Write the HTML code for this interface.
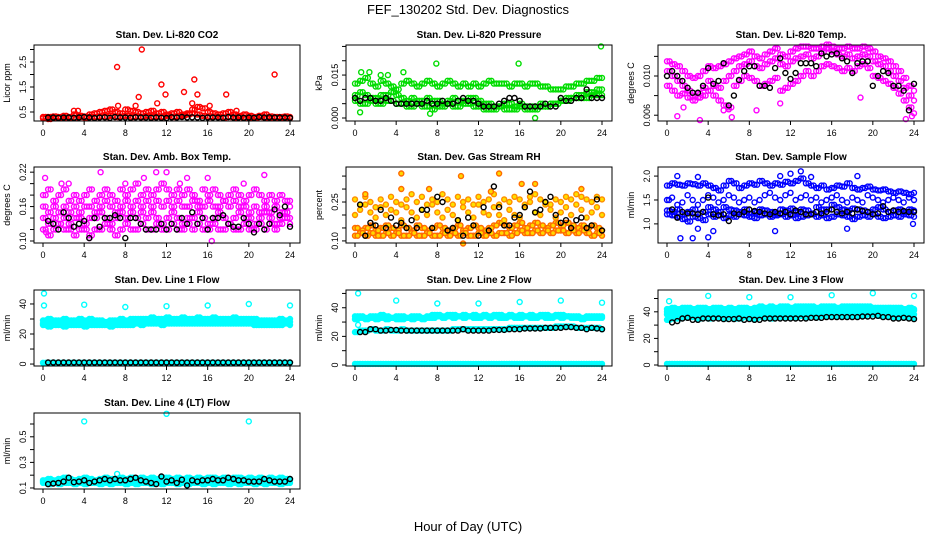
<!DOCTYPE html>
<html><head><meta charset="utf-8"><style>
html,body{margin:0;padding:0;background:#fff;}
svg{display:block;font-family:"Liberation Sans",sans-serif;}
</style></head><body>
<svg id="c" width="936" height="540" viewBox="0 0 936 540">
<rect x="0" y="0" width="936" height="540" fill="#fff"/>
<text x="468" y="14" text-anchor="middle" font-size="13">FEF_130202  Std. Dev. Diagnostics</text>
<text x="468" y="531" text-anchor="middle" font-size="13">Hour of Day (UTC)</text>
</svg>
<script>
const H=[0,0.5,1,1.5,2,2.5,3,3.5,4,4.5,5,5.5,6,6.5,7,7.5,8,8.5,9,9.5,10,10.5,11,11.5,12,12.5,13,13.5,14,14.5,15,15.5,16,16.5,17,17.5,18,18.5,19,19.5,20,20.5,21,21.5,22,22.5,23,23.5,24];
const H2=[0.25,0.75,1.25,1.75,2.25,2.75,3.25,3.75,4.25,4.75,5.25,5.75,6.25,6.75,7.25,7.75,8.25,8.75,9.25,9.75,10.25,10.75,11.25,11.75,12.25,12.75,13.25,13.75,14.25,14.75,15.25,15.75,16.25,16.75,17.25,17.75,18.25,18.75,19.25,19.75,20.25,20.75,21.25,21.75,22.25,22.75,23.25,23.75];
const xTicks=[0,4,8,12,16,20,24];
// CO2
const co2RedA=[0.3,0.3,0.32,0.3,0.35,0.3,0.4,0.35,0.32,0.4,0.45,0.5,0.55,0.6,0.5,0.45,0.6,0.55,0.5,0.45,0.5,0.55,0.45,0.5,0.4,0.45,0.5,0.4,0.45,0.6,0.7,0.65,0.5,0.45,0.4,0.45,0.5,0.4,0.35,0.4,0.35,0.3,0.35,0.4,0.32,0.3,0.3,0.32,0.3];
const co2RedB=[0.25,0.22,0.25,0.28,0.25,0.28,0.25,0.3,0.28,0.3,0.3,0.32,0.3,0.35,0.3,0.32,0.35,0.3,0.32,0.3,0.35,0.3,0.32,0.3,0.35,0.3,0.32,0.35,0.4,0.45,0.4,0.35,0.3,0.32,0.3,0.28,0.3,0.28,0.3,0.25,0.28,0.25,0.3,0.28,0.25,0.28,0.25,0.25,0.25];
const co2Black=[null,0.28,0.28,0.27,0.28,0.28,0.27,0.28,0.3,0.28,0.26,0.28,0.29,0.27,0.3,0.28,0.28,0.27,0.29,0.28,0.28,0.27,0.28,0.27,0.26,0.29,0.28,0.3,0.28,0.29,0.28,0.27,0.28,0.28,0.28,0.27,0.3,0.28,0.28,0.27,0.28,0.27,0.3,0.28,0.29,0.28,0.28,0.28,0.27];
const co2OutX=[7.2,9.6,11.5,9.3,11.9,13.7,14.7,15,17.8,22.5,11.1,14.5,16.2,7.3,9,3,3.4,18.8];
const co2OutY=[2.3,3.0,1.6,1.1,1.2,1.3,1.8,1.2,1.2,2.0,0.85,0.85,0.75,0.75,0.75,0.55,0.55,0.55];
// Pressure
const presA=[0.012,0.013,0.014,0.012,0.011,0.013,0.012,0.011,0.010,0.012,0.013,0.012,0.011,0.012,0.013,0.012,0.011,0.012,0.013,0.012,0.011,0.012,0.011,0.012,0.011,0.012,0.013,0.012,0.012,0.012,0.011,0.012,0.012,0.011,0.012,0.012,0.011,0.011,0.010,0.010,0.010,0.011,0.011,0.012,0.012,0.013,0.013,0.014,0.014];
const presB=[0.008,0.009,0.008,0.007,0.007,0.008,0.008,0.009,0.008,0.007,0.006,0.007,0.006,0.006,0.007,0.006,0.006,0.005,0.006,0.007,0.006,0.006,0.007,0.007,0.006,0.005,0.005,0.004,0.004,0.005,0.005,0.004,0.005,0.004,0.004,0.004,0.005,0.004,0.005,0.005,0.006,0.007,0.007,0.008,0.008,0.009,0.009,0.010,0.010];
const presC=[0.006,0.005,0.005,0.006,0.005,0.005,0.006,0.006,0.005,0.005,0.004,0.004,0.005,0.004,0.004,0.003,0.004,0.004,0.005,0.004,0.004,0.005,0.005,0.004,0.004,0.003,0.003,0.003,0.004,0.003,0.003,0.003,0.004,0.003,0.003,0.003,0.004,0.004,0.005,0.005,0.006,0.006,0.007,0.007,0.007,0.007,0.008,0.008,0.008];
const presBlack=[0.007,0.006,0.007,0.007,0.006,0.006,0.007,0.006,0.005,0.005,0.005,0.005,0.005,0.005,0.006,0.005,0.005,0.006,0.005,0.005,0.006,0.007,0.006,0.006,0.005,0.004,0.004,0.004,0.005,0.006,0.007,0.007,0.006,0.004,0.004,0.004,0.004,0.005,0.004,0.004,0.007,0.006,0.006,0.007,0.007,0.010,0.007,0.007,0.007];
const presOutX=[0.6,1.4,4.7,7.9,15.9,23.9,17.5,0.5,7.3,2.5,3.2];
const presOutY=[0.016,0.016,0.016,0.019,0.019,0.025,0.0,0.002,0.0015,0.015,0.015];
// Temp
const tempA=[0.0105,0.0100,0.0095,0.0090,0.0085,0.0080,0.0082,0.0088,0.0095,0.0090,0.0088,0.0095,0.0100,0.0105,0.0110,0.0112,0.0115,0.0110,0.0108,0.0112,0.0115,0.0118,0.0112,0.0110,0.0115,0.0118,0.0120,0.0122,0.0118,0.0120,0.0125,0.0128,0.0125,0.0122,0.0120,0.0122,0.0118,0.0120,0.0122,0.0120,0.0115,0.0112,0.0110,0.0105,0.0100,0.0095,0.0088,0.0080,0.0075];
const tempB=[0.0090,0.0085,0.0080,0.0082,0.0078,0.0075,0.0078,0.0080,0.0085,0.0080,0.0075,0.0070,0.0068,0.0090,0.0095,0.0100,0.0098,0.0095,0.0090,0.0092,0.0095,0.0098,0.0085,0.0088,0.0092,0.0095,0.0100,0.0105,0.0100,0.0105,0.0110,0.0112,0.0110,0.0108,0.0105,0.0108,0.0105,0.0110,0.0112,0.0108,0.0100,0.0098,0.0095,0.0092,0.0088,0.0082,0.0075,0.0068,0.0062];
const tempC=[0.0115,0.0112,0.0110,0.0105,0.0100,0.0098,0.0100,0.0105,0.0110,0.0108,0.0110,0.0112,0.0115,0.0118,0.0120,0.0122,0.0125,0.0120,0.0118,0.0122,0.0125,0.0128,0.0122,0.0120,0.0125,0.0128,0.0130,0.0130,0.0128,0.0128,0.0130,0.0132,0.0130,0.0128,0.0128,0.0130,0.0128,0.0128,0.0130,0.0128,0.0125,0.0120,0.0118,0.0115,0.0110,0.0105,0.0098,0.0090,0.0085];
const tempBlack=[0.0100,0.0105,0.0100,0.0095,0.0088,0.0083,0.0083,0.0090,0.0108,0.0092,0.0095,0.0113,0.0070,0.0080,0.0096,0.0105,0.0110,0.0110,0.0090,0.0090,0.0088,0.0108,0.0118,0.0103,0.0097,0.0103,0.0113,0.0113,0.0113,0.0110,0.0123,0.0120,0.0122,0.0123,0.0118,0.0115,0.0103,0.0113,0.0115,0.0115,0.0090,0.0100,0.0105,0.0103,0.0090,0.0090,0.0085,0.0065,0.0092];
const tempOutX=[1,3.2,5.5,6.3,8.7,1.6,11,23.2,23.8,6,18.8];
const tempOutY=[0.0059,0.0055,0.0065,0.0058,0.0065,0.0068,0.0072,0.0056,0.0059,0.0066,0.0078];
// Amb box
const ambA=[0.18,0.19,0.17,0.18,0.19,0.17,0.18,0.17,0.18,0.19,0.17,0.18,0.19,0.18,0.17,0.19,0.18,0.19,0.20,0.18,0.19,0.18,0.19,0.20,0.19,0.18,0.19,0.18,0.19,0.18,0.17,0.19,0.18,0.19,0.18,0.17,0.18,0.19,0.18,0.17,0.18,0.19,0.18,0.17,0.18,0.17,0.18,0.17,0.17];
const ambB=[0.16,0.15,0.16,0.15,0.16,0.15,0.16,0.15,0.16,0.16,0.15,0.16,0.17,0.16,0.15,0.16,0.17,0.16,0.17,0.16,0.17,0.16,0.17,0.16,0.17,0.16,0.17,0.16,0.16,0.17,0.16,0.16,0.17,0.16,0.16,0.17,0.16,0.17,0.16,0.16,0.15,0.16,0.15,0.16,0.15,0.16,0.15,0.15,0.16];
const ambC=[0.14,0.13,0.14,0.13,0.14,0.13,0.14,0.14,0.13,0.14,0.14,0.15,0.14,0.13,0.14,0.15,0.14,0.15,0.14,0.15,0.14,0.15,0.14,0.13,0.14,0.15,0.14,0.13,0.14,0.14,0.15,0.14,0.13,0.14,0.15,0.14,0.13,0.14,0.15,0.14,0.14,0.13,0.14,0.15,0.14,0.13,0.14,0.15,0.14];
const ambD=[0.12,0.11,0.12,0.13,0.12,0.12,0.11,0.12,0.12,0.11,0.12,0.12,0.13,0.12,0.11,0.12,0.13,0.12,0.12,0.13,0.12,0.12,0.13,0.12,0.12,0.13,0.12,0.12,0.13,0.12,0.13,0.12,0.12,0.13,0.12,0.12,0.13,0.12,0.12,0.13,0.12,0.12,0.13,0.12,0.13,0.12,0.13,0.14,0.13];
const ambBlack=[null,0.135,0.13,0.12,0.15,0.14,0.125,0.13,0.135,0.105,0.14,0.125,0.14,0.14,0.145,0.14,0.105,0.14,0.14,0.13,0.12,0.12,0.12,0.13,0.12,0.13,0.12,0.14,0.13,0.15,0.13,0.14,0.12,0.14,0.14,0.145,0.13,0.125,0.125,0.14,0.13,0.115,0.13,0.12,0.13,0.155,0.145,0.16,0.125];
const ambOutX=[0.2,1.8,5.6,8,11,12,14,16,21.5,16.4,2.5,0.3,4.5,9.8,13.3,19.5];
const ambOutY=[0.21,0.2,0.22,0.2,0.22,0.22,0.21,0.21,0.215,0.10,0.2,0.115,0.105,0.21,0.2,0.2];
// Gas RH
const rhA=[0.15,0.14,0.15,0.16,0.14,0.15,0.16,0.15,0.14,0.16,0.15,0.14,0.16,0.15,0.14,0.15,0.16,0.15,0.14,0.15,0.16,0.14,0.15,0.16,0.15,0.14,0.15,0.16,0.17,0.16,0.15,0.16,0.17,0.15,0.16,0.17,0.16,0.15,0.16,0.17,0.16,0.17,0.16,0.15,0.16,0.15,0.16,0.15,0.14];
const rhB=[0.12,0.13,0.12,0.13,0.12,0.12,0.13,0.12,0.13,0.12,0.12,0.13,0.12,0.12,0.13,0.12,0.12,0.13,0.12,0.13,0.12,0.13,0.12,0.12,0.13,0.12,0.13,0.12,0.13,0.13,0.12,0.13,0.14,0.13,0.13,0.14,0.13,0.14,0.13,0.14,0.14,0.13,0.14,0.13,0.14,0.13,0.12,0.13,0.12];
const rhC=[0.20,0.22,0.24,0.21,0.19,0.23,0.20,0.22,0.21,0.18,0.23,0.21,0.19,0.22,0.20,0.24,0.21,0.19,0.22,0.20,0.18,0.23,0.21,0.19,0.24,0.21,0.20,0.23,0.20,0.18,0.22,0.20,0.19,0.23,0.25,0.21,0.20,0.24,0.22,0.19,0.21,0.23,0.20,0.24,0.22,0.19,0.21,0.23,0.20];
const rhD=[0.26,0.24,0.27,0.25,0.23,0.26,0.24,0.27,0.25,0.24,0.26,0.28,0.25,0.27,0.24,0.26,0.25,0.28,0.26,0.24,0.27,0.25,0.26,0.24,0.27,0.25,0.26,0.28,0.24,0.26,0.25,0.27,0.26,0.24,0.27,0.28,0.26,0.25,0.24,0.26,0.25,0.27,0.26,0.28,0.27,0.26,0.25,0.27,0.26];
const rhBlack=[null,0.24,0.12,0.17,0.16,0.22,0.15,0.19,0.16,0.17,0.15,0.18,0.15,0.22,0.22,0.15,0.27,0.25,0.14,0.15,0.18,0.12,0.19,0.16,0.12,0.23,0.14,0.31,0.23,0.16,0.16,0.19,0.20,0.23,0.29,0.21,0.22,0.25,0.27,0.20,0.17,0.18,0.15,0.18,0.19,0.15,0.16,0.26,0.14];
const rhOutX=[1,4.5,4.5,10.3,14,16.2,7.2,17.5,10.5,13.2,22];
const rhOutY=[0.28,0.36,0.3,0.35,0.36,0.32,0.3,0.32,0.09,0.29,0.3];
// Sample flow
const flowA=[1.8,1.85,1.82,1.8,1.85,1.83,1.8,1.85,1.8,1.75,1.7,1.8,1.9,1.85,1.75,1.8,1.85,1.82,1.9,1.85,1.8,1.85,1.82,1.88,1.85,1.9,1.95,1.85,1.8,1.75,1.8,1.72,1.75,1.8,1.78,1.85,1.75,1.72,1.75,1.78,1.72,1.7,1.72,1.68,1.65,1.68,1.65,1.62,1.65];
const flowB=[1.28,1.25,1.3,1.2,1.25,1.3,1.22,1.25,1.35,1.3,1.25,1.35,1.3,1.28,1.25,1.3,1.22,1.25,1.3,1.28,1.25,1.22,1.3,1.28,1.32,1.25,1.3,1.28,1.22,1.35,1.3,1.3,1.4,1.35,1.3,1.28,1.32,1.3,1.28,1.25,1.3,1.35,1.3,1.25,1.28,1.3,1.25,1.3,1.28];
const flowC=[1.2,1.18,1.15,1.1,1.05,1.15,1.12,1.08,1.2,1.15,1.18,1.12,1.18,1.15,1.2,1.18,1.15,1.12,1.18,1.2,1.15,1.18,1.2,1.15,1.18,1.12,1.15,1.18,1.2,1.15,1.18,1.12,1.15,1.2,1.18,1.15,1.1,1.15,1.18,1.15,1.2,1.15,1.12,1.15,1.18,1.15,1.2,1.18,1.15];
const flowD=[1.5,1.55,1.4,1.45,1.6,1.5,1.4,1.5,1.6,1.55,1.45,1.5,1.6,1.55,1.45,1.5,1.55,1.45,1.5,1.6,1.65,1.55,1.5,1.6,1.65,1.5,1.55,1.6,1.5,1.55,1.45,1.5,1.55,1.6,1.5,1.45,1.55,1.5,1.45,1.6,1.55,1.5,1.45,1.5,1.55,1.5,1.45,1.55,1.5];
const flowBlack=[null,1.3,1.13,1.25,1.22,1.22,1.2,1.25,1.55,1.2,1.18,1.2,1.06,1.22,1.2,1.25,1.3,1.27,1.25,1.22,1.2,1.25,1.22,1.25,1.2,1.28,1.25,1.2,1.2,1.25,1.22,1.25,1.3,1.25,1.22,1.25,1.22,1.3,1.27,1.25,1.2,1.22,1.37,1.25,1.28,1.25,1.27,1.25,1.25];
const flowOutX=[1.3,2.5,4,0.2,1,3,13,12,18.5,3,4.5,10.5,17.5,23.9,11,14];
const flowOutY=[0.7,0.7,0.72,1.5,2.0,1.98,2.1,2.05,2.0,0.9,0.85,0.85,0.9,1.0,2.0,1.98];
// Line 1
const l1A=[27,28,27,28,27,28,27,28,27,28,27,28,27,27,28,27,28,27,28,28,29,28,29,28,29,28,29,29,28,29,28,29,29,28,29,28,29,28,29,28,29,28,28,27,28,27,28,28,28];
const l1B=[29,30,29,29,30,29,29,30,29,30,29,29,28,29,29,30,29,30,30,30,30,31,30,30,31,30,30,31,30,30,31,30,30,31,30,30,30,31,30,30,30,30,29,29,29,29,30,29,30];
const l1C=[26,25,26,26,25,26,26,26,25,26,26,26,26,25,26,26,26,26,27,26,27,27,27,26,27,27,27,27,27,27,27,27,27,27,27,27,27,27,27,27,27,26,26,26,26,26,26,27,26];
const l1Low=[0.8,0.8,0.8,0.8,0.8,0.8,0.8,0.8,0.8,0.8,0.8,0.8,0.8,0.8,0.8,0.8,0.8,0.8,0.8,0.8,0.8,0.8,0.8,0.8,0.8,0.8,0.8,0.8,0.8,0.8,0.8,0.8,0.8,0.8,0.8,0.8,0.8,0.8,0.8,0.8,0.8,0.8,0.8,0.8,0.8,0.8,0.8,0.8,0.8];
const l1Black=[null,1,1,1,1,1,1,1,1,1,1,1,1,1,1,1,1,1,1,1,1,1,1,1,1,1,1,1,1,1,1,1,1,1,1,1,1,1,1,1,1,1,1,1,1,1,1,1,1];
const l1OutX=[0.1,0.1,4,8,12,16,20,24];
const l1OutY=[47,39,39.5,38,38.5,39,40,39];
// Line 2
const l2A=[32,33,32,33,32,33,32,33,32,32,33,32,33,32,33,33,34,33,34,33,34,33,34,33,33,34,33,34,33,33,34,33,33,34,33,33,34,33,33,34,33,34,33,33,32,33,33,33,33];
const l2B=[34,34,33,34,34,35,34,33,34,34,33,34,34,33,34,35,35,34,35,35,34,35,34,35,34,35,34,35,35,34,35,34,35,34,35,34,35,35,34,35,35,34,34,34,33,34,34,34,34];
const l2C=[23,24,24,25,24,24,25,24,24,25,24,24,24,24,24,24,24,24,24,25,25,25,25,25,25,25,25,25,25,25,26,26,26,26,26,26,26,26,26,27,27,27,27,26,26,26,26,26,25];
const l2Low=[0.8,0.8,0.8,0.8,0.8,0.8,0.8,0.8,0.8,0.8,0.8,0.8,0.8,0.8,0.8,0.8,0.8,0.8,0.8,0.8,0.8,0.8,0.8,0.8,0.8,0.8,0.8,0.8,0.8,0.8,0.8,0.8,0.8,0.8,0.8,0.8,0.8,0.8,0.8,0.8,0.8,0.8,0.8,0.8,0.8,0.8,0.8,0.8,0.8];
const l2Black=[null,23,23,25,25,24,24,24.5,24.5,24,24,24,24,24,24,24,24,24,24,24,24,25,24,24,24,24,24,24.5,24.5,24.5,25,25,25,25.5,25.5,25.5,25.5,26,26,26,26,26.5,26.5,26,26,25,26,25.5,25];
const l2OutX=[0.3,0.3,4,8,12,16,20,24];
const l2OutY=[50,28,45,43,43,44,45,43.5];
// Line 3
const l3A=[40,41,41,41,42,41,41,42,41,41,42,41,41,41,42,41,41,42,42,42,43,42,42,43,42,42,43,43,43,42,43,43,43,42,43,43,43,43,42,43,42,42,42,42,41,42,41,42,41];
const l3B=[42,43,42,43,43,42,43,43,42,43,43,42,43,42,43,43,42,43,44,43,44,43,44,44,43,44,44,44,44,43,44,44,44,43,44,44,44,44,44,44,43,43,43,43,43,43,42,43,42];
const l3C=[34,35,35,36,36,36,35,36,35,36,36,35,36,35,35,36,35,35,36,36,35,36,36,36,36,36,37,36,37,36,37,37,37,37,37,37,37,37,37,38,38,37,37,37,36,36,36,36,35];
const l3D=[38,38,39,39,38,39,38,39,38,39,39,38,39,38,39,39,38,39,39,40,39,40,39,40,40,39,40,40,40,39,40,40,40,40,40,40,41,40,40,41,40,40,40,40,39,39,39,39,38];
const l3Low=[0.8,0.8,0.8,0.8,0.8,0.8,0.8,0.8,0.8,0.8,0.8,0.8,0.8,0.8,0.8,0.8,0.8,0.8,0.8,0.8,0.8,0.8,0.8,0.8,0.8,0.8,0.8,0.8,0.8,0.8,0.8,0.8,0.8,0.8,0.8,0.8,0.8,0.8,0.8,0.8,0.8,0.8,0.8,0.8,0.8,0.8,0.8,0.8,0.8];
const l3Black=[null,32,33,35,35.5,34,34,35,35,35,35,34.5,34.5,34.5,35,34,34.5,34,34,35,35,35,35,35,35,35,35,35,35.5,35.5,35.5,36,36,36,36,36,36,36,36.5,36.5,36.5,37,36,36,35,35,35.5,35,34.5];
const l3OutX=[0.2,0.1,4,8,12,16,20,24];
const l3OutY=[48,38,52,51,51,52.5,54,52];
// Line 4
const l4A=[0.16,0.17,0.16,0.17,0.18,0.17,0.16,0.17,0.18,0.17,0.16,0.17,0.18,0.17,0.17,0.18,0.17,0.18,0.17,0.18,0.17,0.18,0.17,0.18,0.18,0.17,0.18,0.17,0.18,0.17,0.18,0.17,0.18,0.18,0.17,0.18,0.17,0.18,0.18,0.17,0.18,0.17,0.18,0.17,0.18,0.17,0.18,0.17,0.17];
const l4B=[0.14,0.13,0.14,0.13,0.14,0.14,0.13,0.14,0.13,0.14,0.14,0.13,0.14,0.13,0.14,0.14,0.13,0.14,0.13,0.14,0.14,0.13,0.14,0.13,0.14,0.14,0.13,0.14,0.13,0.14,0.14,0.13,0.14,0.13,0.14,0.14,0.13,0.14,0.13,0.14,0.14,0.13,0.14,0.13,0.14,0.14,0.13,0.14,0.14];
const l4C=[0.15,0.16,0.15,0.15,0.16,0.15,0.16,0.15,0.15,0.16,0.15,0.16,0.15,0.16,0.15,0.15,0.16,0.15,0.16,0.15,0.15,0.16,0.15,0.16,0.15,0.15,0.16,0.15,0.16,0.15,0.15,0.16,0.15,0.16,0.15,0.15,0.16,0.15,0.16,0.15,0.15,0.16,0.15,0.16,0.15,0.15,0.16,0.15,0.16];
const l4Black=[null,0.13,0.135,0.14,0.15,0.18,0.145,0.15,0.16,0.14,0.15,0.16,0.17,0.16,0.17,0.16,0.16,0.17,0.18,0.16,0.15,0.14,0.13,0.19,0.15,0.16,0.14,0.165,0.12,0.16,0.15,0.16,0.16,0.17,0.16,0.16,0.18,0.17,0.16,0.16,0.15,0.15,0.15,0.17,0.16,0.15,0.15,0.15,0.17];
const l4OutX=[4,12,20,7.2];
const l4OutY=[0.62,0.68,0.62,0.21];

const NS='http://www.w3.org/2000/svg';
const svg=document.getElementById('c');
function mk(tag,attrs,parent){const e=document.createElementNS(NS,tag);for(const k in attrs)e.setAttribute(k,attrs[k]);(parent||svg).appendChild(e);return e;}
const colL=[34,346,658], rowT=[45,167,290,413], W=266, PH=76;

function panel(name,col,row,title,ylab,ymin,ymax,yt,ylabs,series){
  const L=colL[col], T=rowT[row], B=T+PH;
  const g=mk('g',{});
  
  
  const xs=v=>L+9+v*(247/24);
  const ys=v=>B-(v-ymin)/(ymax-ymin)*PH;
  const t=mk('text',{x:L+W/2,y:T-7,'text-anchor':'middle','font-size':10,'font-weight':'bold'},g);
  t.textContent=title;
  
  
  const yl=mk('text',{x:0,y:0,'text-anchor':'middle','font-size':9,transform:`translate(${L-24},${T+PH/2}) rotate(-90)`},g);
  yl.textContent=ylab;
  
  
  series.forEach(s=>{
    const sg=mk('g',{},g);
    
    
    const dot=(xv,yv)=>{
      const c=mk('circle',{cx:xs(xv).toFixed(1),cy:ys(yv).toFixed(1),r:2.5,fill:s.f||'none',stroke:s.c,'stroke-width':1.4},sg);
      
      
    };
    for(let i=0;i<s.y.length;i++){ if(s.y[i]!=null) dot(s.x[i],s.y[i]); }
    if(s.d){ for(let i=0;i<H2.length;i++){ if(s.y[i]!=null) dot(H2[i],s.y[i]); } }
  });
  const box=mk('rect',{x:L,y:T,width:W,height:PH,fill:'none',stroke:'#000','stroke-width':1},g);
  
  
  xTicks.forEach(v=>{
    const x=xs(v);
    mk('line',{x1:x,x2:x,y1:B,y2:B+4,stroke:'#000'},g);
    const tx=mk('text',{x:x,y:B+15,'text-anchor':'middle','font-size':9},g);
    tx.textContent=String(v);
    
    
  });
  yt.forEach((v,i)=>{
    const y=ys(v);
    mk('line',{x1:L-4,x2:L,y1:y,y2:y,stroke:'#000'},g);
    if(ylabs[i]){
      const ty=mk('text',{x:0,y:0,'text-anchor':'middle','font-size':9,transform:`translate(${L-8},${y}) rotate(-90)`},g);
      ty.textContent=ylabs[i];
      
      
    }
  });
}
const R='#ff0000',K='#000000',G='#00dd00',M='#ff00ff',Bl='#0000ff',C='#00ffff';
panel('co2',0,0,'Stan. Dev. Li-820 CO2','Licor ppm',0.14,3.18,[0.5,1,1.5,2,2.5,3],['0.5','','1.5','','2.5',''],
 [{n:'red-a',x:H,y:co2RedA,c:R,d:true},{n:'red-b',x:H,y:co2RedB,c:R,d:true},{n:'red-outliers',x:co2OutX,y:co2OutY,c:R},{n:'black',x:H,y:co2Black,c:K}]);
panel('pressure',1,0,'Stan. Dev. Li-820 Pressure','kPa',-0.00105,0.0255,[0,0.005,0.01,0.015,0.02,0.025],['0.000','','','0.015','',''],
 [{n:'green-a',x:H,y:presA,c:G,d:true},{n:'green-b',x:H,y:presB,c:G,d:true},{n:'green-c',x:H,y:presC,c:G,d:true},{n:'green-outliers',x:presOutX,y:presOutY,c:G},{n:'black',x:H,y:presBlack,c:K}]);
panel('temp',2,0,'Stan. Dev. Li-820 Temp.','degrees C',0.00541,0.01316,[0.006,0.008,0.010,0.012],['0.006','','0.010',''],
 [{n:'magenta-a',x:H,y:tempA,c:M,d:true},{n:'magenta-b',x:H,y:tempB,c:M,d:true},{n:'magenta-c',x:H,y:tempC,c:M,d:true},{n:'magenta-outliers',x:tempOutX,y:tempOutY,c:M},{n:'black',x:H,y:tempBlack,c:K}]);
panel('amb-box',0,1,'Stan. Dev. Amb. Box Temp.','degrees C',0.0965,0.229,[0.10,0.12,0.14,0.16,0.18,0.20,0.22],['0.10','','','0.16','','','0.22'],
 [{n:'magenta-a',x:H,y:ambA,c:M,d:true},{n:'magenta-b',x:H,y:ambB,c:M,d:true},{n:'magenta-c',x:H,y:ambC,c:M,d:true},{n:'magenta-d',x:H,y:ambD,c:M,d:true},{n:'magenta-outliers',x:ambOutX,y:ambOutY,c:M},{n:'black',x:H,y:ambBlack,c:K}]);
panel('gas-rh',1,1,'Stan. Dev. Gas Stream RH','percent',0.092,0.385,[0.10,0.15,0.20,0.25,0.30,0.35],['0.10','','','0.25','',''],
 [{n:'orange-a',x:H,y:rhA,c:'#ff6a00',f:'#ffd800',d:true},{n:'orange-b',x:H,y:rhB,c:'#ff6a00',f:'#ffd800',d:true},{n:'orange-c',x:H,y:rhC,c:'#ff8c00',f:'#ffe000'},{n:'orange-d',x:H,y:rhD,c:'#ff8c00',f:'#ffe000'},{n:'orange-outliers',x:rhOutX,y:rhOutY,c:'#ff6a00',f:'#ffd800'},{n:'black',x:H,y:rhBlack,c:K}]);
panel('sample-flow',2,1,'Stan. Dev. Sample Flow','ml/min',0.60,2.19,[1.0,1.5,2.0],['1.0','1.5','2.0'],
 [{n:'blue-a',x:H,y:flowA,c:Bl,d:true},{n:'blue-d',x:H,y:flowD,c:Bl},{n:'blue-b',x:H,y:flowB,c:Bl,d:true},{n:'blue-c',x:H,y:flowC,c:Bl,d:true},{n:'blue-outliers',x:flowOutX,y:flowOutY,c:Bl},{n:'black',x:H,y:flowBlack,c:K}]);
panel('line1',0,2,'Stan. Dev. Line 1 Flow','ml/min',-1.3,49.3,[0,10,20,30,40],['0','','20','','40'],
 [{n:'cyan-a',x:H,y:l1A,c:C,f:C,d:true},{n:'cyan-b',x:H,y:l1B,c:C,f:C,d:true},{n:'cyan-c',x:H,y:l1C,c:C,f:C,d:true},{n:'cyan-low',x:H,y:l1Low,c:C,f:C,d:true},{n:'cyan-outliers',x:l1OutX,y:l1OutY,c:C},{n:'black',x:H,y:l1Black,c:K}]);
panel('line2',1,2,'Stan. Dev. Line 2 Flow','ml/min',-0.7,52.4,[0,10,20,30,40,50],['0','','20','','40',''],
 [{n:'cyan-a',x:H,y:l2A,c:C,f:C,d:true},{n:'cyan-b',x:H,y:l2B,c:C,f:C,d:true},{n:'cyan-c',x:H,y:l2C,c:C,f:C,d:true},{n:'cyan-low',x:H,y:l2Low,c:C,f:C,d:true},{n:'cyan-outliers',x:l2OutX,y:l2OutY,c:C},{n:'black',x:H,y:l2Black,c:K}]);
panel('line3',2,2,'Stan. Dev. Line 3 Flow','ml/min',-0.75,56.4,[0,10,20,30,40,50],['0','','20','','40',''],
 [{n:'cyan-a',x:H,y:l3A,c:C,f:C,d:true},{n:'cyan-b',x:H,y:l3B,c:C,f:C,d:true},{n:'cyan-d',x:H,y:l3D,c:C,f:C,d:true},{n:'cyan-c',x:H,y:l3C,c:C,f:C,d:true},{n:'cyan-low',x:H,y:l3Low,c:C,f:C,d:true},{n:'cyan-outliers',x:l3OutX,y:l3OutY,c:C},{n:'black',x:H,y:l3Black,c:K}]);
panel('line4',0,3,'Stan. Dev. Line 4 (LT) Flow','ml/min',0.092,0.686,[0.1,0.2,0.3,0.4,0.5,0.6],['0.1','','0.3','','0.5',''],
 [{n:'cyan-a',x:H,y:l4A,c:C,f:C,d:true},{n:'cyan-b',x:H,y:l4B,c:C,f:C,d:true},{n:'cyan-c',x:H,y:l4C,c:C,f:C,d:true},{n:'cyan-outliers',x:l4OutX,y:l4OutY,c:C},{n:'black',x:H,y:l4Black,c:K}]);
</script>
</body></html>
